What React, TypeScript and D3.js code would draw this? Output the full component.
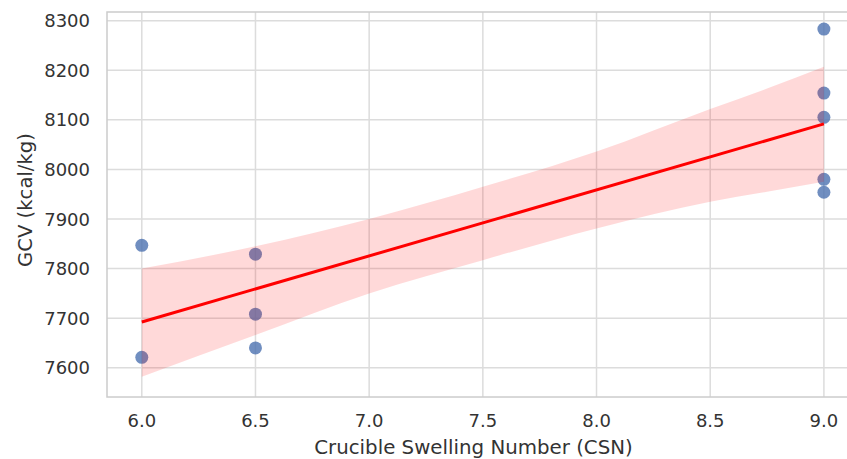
import React, { useEffect, useRef } from 'react';
import * as d3 from 'd3';

// CSN vs GCV observations
const csn = [6.0, 6.0, 6.5, 6.5, 6.5, 9.0, 9.0, 9.0, 9.0, 9.0];
const gcv = [7847, 7621, 7829, 7708, 7640, 8283, 8154, 8105, 7980, 7954];

// confidence band edges
const ciX = [6.0, 6.5, 7.0, 7.5, 8.0, 8.5, 8.75, 9.0];
const ciUpper = [7800, 7845, 7900, 7965, 8036, 8122, 8163, 8207];
const ciLower = [7582, 7666, 7750, 7817, 7881, 7935, 7955, 7975];

const xTicks = [6.0, 6.5, 7.0, 7.5, 8.0, 8.5, 9.0];
const yTicks = [7600, 7700, 7800, 7900, 8000, 8100, 8200, 8300];

const width = 847;
const height = 459;
const margin = { top: 12, right: -11, bottom: 62, left: 107 };

export default function App() {
  const svgRef = useRef<SVGSVGElement>(null);

  useEffect(() => {
    const svg = d3.select(svgRef.current);
    svg.selectAll('*').remove();

    const x = d3.scaleLinear()
      .domain([5.847, 9.15])
      .range([margin.left, width - margin.right]);

    const y = d3.scaleLinear()
      .domain([7541, 8317.5])
      .range([height - margin.bottom, margin.top]);

    const font = '"DejaVu Sans", sans-serif';
    const grid = '#dcdcdc';
    const ink = '#333';

    // grid
    svg.append('g')
      .selectAll('line')
      .data(xTicks)
      .join('line')
      .attr('x1', d => x(d))
      .attr('x2', d => x(d))
      .attr('y1', margin.top)
      .attr('y2', height - margin.bottom)
      .attr('stroke', grid)
      .attr('stroke-width', 1.5);

    svg.append('g')
      .selectAll('line')
      .data(yTicks)
      .join('line')
      .attr('x1', margin.left)
      .attr('x2', width - margin.right)
      .attr('y1', d => y(d))
      .attr('y2', d => y(d))
      .attr('stroke', grid)
      .attr('stroke-width', 1.5);

    // scatter
    const pts = csn.map((c, i) => ({ x: c, y: gcv[i] }));
    svg.append('g')
      .selectAll('circle')
      .data(pts)
      .join('circle')
      .attr('cx', d => x(d.x))
      .attr('cy', d => y(d.y))
      .attr('r', 6.5)
      .attr('fill', '#4c72b0')
      .attr('fill-opacity', 0.8);

    // confidence band
    const band = ciX.map((c, i) => ({ x: c, lo: ciLower[i], hi: ciUpper[i] }));
    svg.append('path')
      .datum(band)
      .attr('fill', '#ff0000')
      .attr('fill-opacity', 0.15)
      .attr('d', d3.area<{ x: number; lo: number; hi: number }>()
        .x(d => x(d.x))
        .y0(d => y(d.lo))
        .y1(d => y(d.hi))
        .curve(d3.curveMonotoneX));

    // least squares fit
    const mx = d3.mean(csn) as number;
    const my = d3.mean(gcv) as number;
    const sxy = d3.sum(csn, (c, i) => (c - mx) * (gcv[i] - my));
    const sxx = d3.sum(csn, c => (c - mx) ** 2);
    const slope = sxy / sxx;
    const icpt = my - slope * mx;
    const ext = d3.extent(csn) as [number, number];
    svg.append('path')
      .datum(ext)
      .attr('fill', 'none')
      .attr('stroke', '#ff0000')
      .attr('stroke-width', 3)
      .attr('d', d3.line<number>()
        .x(d => x(d))
        .y(d => y(icpt + slope * d)));

    // frame
    svg.append('rect')
      .attr('x', margin.left)
      .attr('y', margin.top)
      .attr('width', width - margin.right - margin.left)
      .attr('height', height - margin.bottom - margin.top)
      .attr('fill', 'none')
      .attr('stroke', '#cccccc')
      .attr('stroke-width', 1.5);

    // tick labels
    svg.append('g')
      .selectAll('text')
      .data(xTicks)
      .join('text')
      .attr('x', d => x(d))
      .attr('y', 427)
      .attr('text-anchor', 'middle')
      .attr('font-family', font)
      .attr('font-size', 18)
      .attr('fill', ink)
      .text(d => d.toFixed(1));

    svg.append('g')
      .selectAll('text')
      .data(yTicks)
      .join('text')
      .attr('x', margin.left - 17)
      .attr('y', d => y(d) + 6.5)
      .attr('text-anchor', 'end')
      .attr('font-family', font)
      .attr('font-size', 18)
      .attr('fill', ink)
      .text(d => d);

    // axis titles
    svg.append('text')
      .attr('x', 473.5)
      .attr('y', 454)
      .attr('text-anchor', 'middle')
      .attr('font-family', font)
      .attr('font-size', 19.8)
      .attr('fill', ink)
      .text('Crucible Swelling Number (CSN)');

    svg.append('text')
      .attr('transform', 'translate(32,200) rotate(-90)')
      .attr('text-anchor', 'middle')
      .attr('font-family', font)
      .attr('font-size', 19.6)
      .attr('fill', ink)
      .text('GCV (kcal/kg)');
  }, []);

  return (
    <div style={{ position: 'absolute', left: 0, top: 0 }}>
      <svg ref={svgRef} width={width} height={height} style={{ display: 'block', background: '#fff' }} />
    </div>
  );
}
